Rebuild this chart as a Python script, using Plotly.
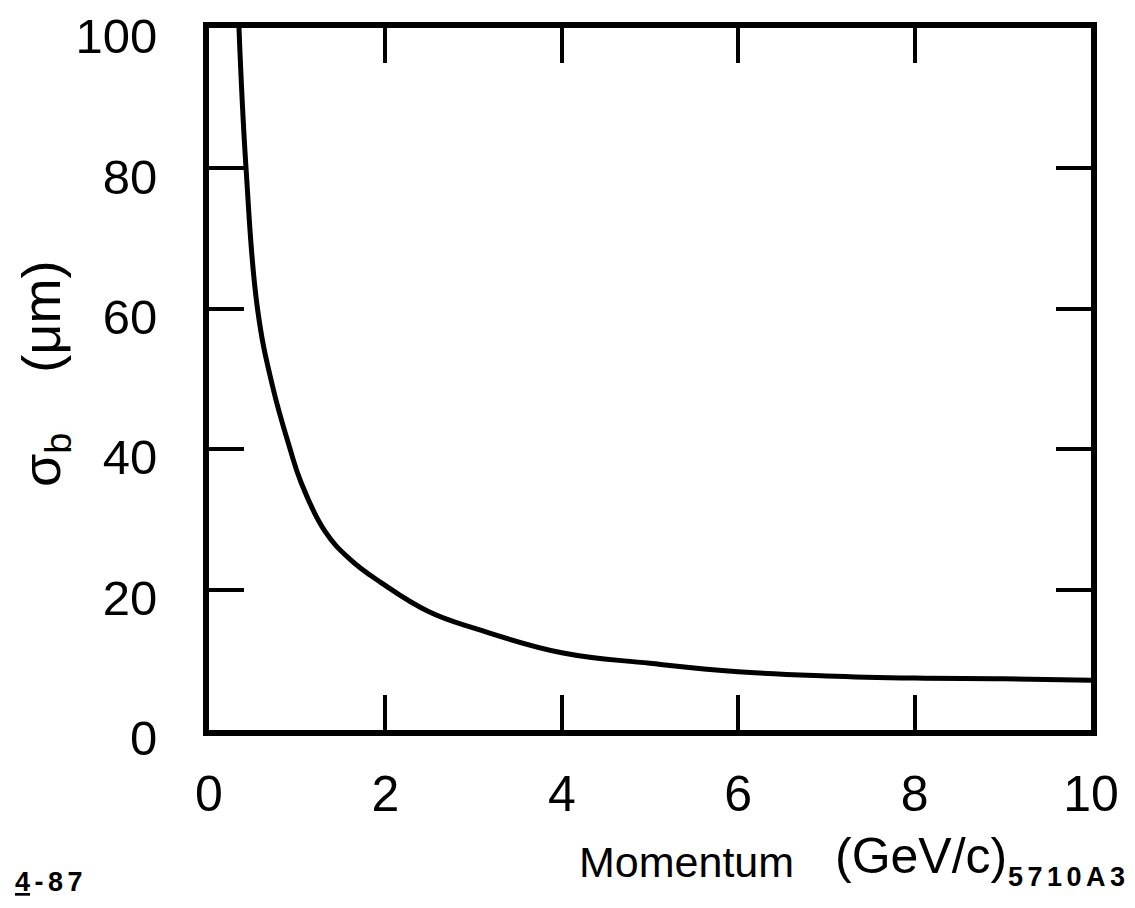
import plotly.graph_objects as go

# Data
momentum = [0.34, 0.42, 0.55, 0.72, 0.92, 1.04, 1.31, 1.6, 1.95, 2.5, 3.06, 4.0, 5.0, 6.0, 7.0, 8.0, 9.0, 10.0]
sigma_b = [100, 80, 60, 49, 40, 35.4, 28.4, 24.3, 21.0, 16.8, 14.3, 11.0, 9.5, 8.3, 7.7, 7.4, 7.3, 7.1]

x_ticks = [0, 2, 4, 6, 8, 10]
x_ticktext = ["0", "2", "4", "6", "8", "10"]
y_ticks = [0, 20, 40, 60, 80, 100]
y_ticktext = ["0", "20", "40", "60", "80", "100"]

FONT = "Liberation Sans"
SP = "\u2006"  # narrow space for letter spacing

# page body has an 8px margin; figure sized so it fits the window exactly
PAGE_OFF = 8
FIG_W, FIG_H = 1135 - 2 * PAGE_OFF, 908 - 2 * PAGE_OFF
PLOT_L, PLOT_R, PLOT_T, PLOT_B = 209, 1091, 28, 730  # page pixels
PW, PH = PLOT_R - PLOT_L, PLOT_B - PLOT_T


def px(xp):
    return (xp - PLOT_L) / PW


def py(yp):
    return (PLOT_B - yp) / PH


fig = go.Figure()
fig.add_trace(go.Scatter(
    x=momentum, y=sigma_b, mode="lines",
    line=dict(color="black", width=5, shape="spline", smoothing=1.2),
    showlegend=False, hoverinfo="skip",
))

axis_common = dict(
    showgrid=False, zeroline=False, showline=True, linecolor="black", linewidth=6,
    mirror="ticks", ticks="inside", ticklen=35, tickwidth=4, tickcolor="black",
    automargin=False, ticklabeloverflow="allow",
)

fig.update_layout(
    width=FIG_W, height=FIG_H,
    margin=dict(l=PLOT_L - PAGE_OFF, r=FIG_W - (PLOT_R - PAGE_OFF),
                t=PLOT_T - PAGE_OFF, b=FIG_H - (PLOT_B - PAGE_OFF)),
    paper_bgcolor="white", plot_bgcolor="white",
    xaxis=dict(range=[0, 10], tickvals=x_ticks, ticktext=x_ticktext,
               ticklabelstandoff=15, tickfont=dict(family=FONT, size=50, color="black"),
               **axis_common),
    yaxis=dict(range=[0, 100], tickvals=y_ticks, ticktext=y_ticktext,
               ticklabelstandoff=36, ticklabelshift=8,
               tickfont=dict(family=FONT, size=49, color="black"), **axis_common),
    annotations=[
        dict(text="Momentum", x=px(686), y=py(862),
             xref="paper", yref="paper", xanchor="center", yanchor="middle",
             showarrow=False, font=dict(family=FONT, size=43, color="black")),
        dict(text="(GeV/c)", x=px(921), y=py(856),
             xref="paper", yref="paper", xanchor="center", yanchor="middle",
             showarrow=False, font=dict(family=FONT, size=50, color="black")),
        dict(text="σ<sub>b</sub>&nbsp;&nbsp;&nbsp;&nbsp;(μm)", x=px(45), y=py(374),
             xref="paper", yref="paper", xanchor="center", yanchor="middle",
             textangle=-90, showarrow=False,
             font=dict(family=FONT, size=54, color="black")),
        dict(text="<b><u>4</u>" + SP + "-" + SP + "8" + SP + "7</b>", x=px(13), y=py(882),
             xref="paper", yref="paper", xanchor="left", yanchor="middle",
             showarrow=False, font=dict(family=FONT, size=27, color="black")),
        dict(text="<b>" + SP.join("5710A3") + "</b>", x=px(1127), y=py(877),
             xref="paper", yref="paper", xanchor="right", yanchor="middle",
             showarrow=False, font=dict(family=FONT, size=27, color="black")),
    ],
)

fig.write_html("out.html")
